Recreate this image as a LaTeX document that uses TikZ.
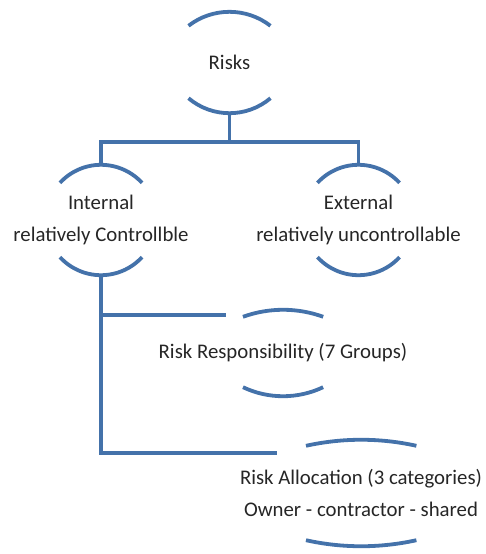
\documentclass[tikz,border=0pt]{standalone}
\usepackage{fontspec}
\setmainfont{Carlito}
\definecolor{lineblue}{RGB}{68,114,170}
\definecolor{txt}{RGB}{38,38,38}
\begin{document}
\begin{tikzpicture}[x=1pt,y=-1pt,
  conn/.style={draw=lineblue,line width=3.8pt},
  arcline/.style={draw=lineblue,line width=3.8pt},
  lbl/.style={inner sep=0pt,align=center,text=txt,font=\fontsize{20.8}{32.5}\selectfont,minimum width=80pt}]
\useasboundingbox (0,0) rectangle (486,554);
% nodes
\node[lbl,minimum height=101pt] (risks) at (229.5,62.5) {Risks};
\node[lbl,minimum height=110pt] (internal) at (101,220) {Internal\\relatively Controllble};
\node[lbl,minimum height=110pt] (external) at (358.5,220) {External\\relatively uncontrollable};
\node[lbl,minimum height=86pt] (resp) at (283,353) {Risk Responsibility (7 Groups)};
\node[lbl,minimum height=104pt] (alloc) at (361,493) {Risk Allocation (3 categories)\\Owner - contractor - shared};
% bracket arcs
\draw[arcline] ([xshift=-41pt,yshift=-14pt]risks.north) arc[start angle=127.7,end angle=52.3,radius=67pt];
\draw[arcline] ([xshift=-41pt,yshift=15pt]risks.south) arc[start angle=229.8,end angle=310.2,radius=63.5pt];
\draw[arcline] ([xshift=-41pt,yshift=-18pt]internal.north) arc[start angle=137.4,end angle=42.6,radius=55.7pt];
\draw[arcline] ([xshift=-41pt,yshift=18pt]internal.south) arc[start angle=222.6,end angle=317.4,radius=55.7pt];
\draw[arcline] ([xshift=-41pt,yshift=-18pt]external.north) arc[start angle=137.4,end angle=42.6,radius=55.7pt];
\draw[arcline] ([xshift=-41pt,yshift=18pt]external.south) arc[start angle=222.6,end angle=317.4,radius=55.7pt];
\draw[arcline] ([xshift=-40pt,yshift=-7pt]resp.north) arc[start angle=109.9,end angle=70.1,radius=117.8pt];
\draw[arcline] ([xshift=-40pt,yshift=9pt]resp.south) arc[start angle=244.6,end angle=295.4,radius=93.4pt];
\draw[arcline] ([xshift=-55pt,yshift=-5pt]alloc.north) arc[start angle=102.5,end angle=77.5,radius=255pt];
\draw[arcline] ([xshift=-55pt,yshift=5pt]alloc.south) arc[start angle=257.5,end angle=282.5,radius=255pt];
% connectors
\coordinate (bus) at (229.5,142);
\coordinate (respin) at (226,315);
\coordinate (allocin) at (277,453);
\draw[conn] (risks.south) -- (bus);
\draw[conn] (internal.north) |- (bus) -| (external.north);
\draw[conn] (internal.south) |- (respin);
\draw[conn] (internal.south) |- (allocin);
\end{tikzpicture}
\end{document}
